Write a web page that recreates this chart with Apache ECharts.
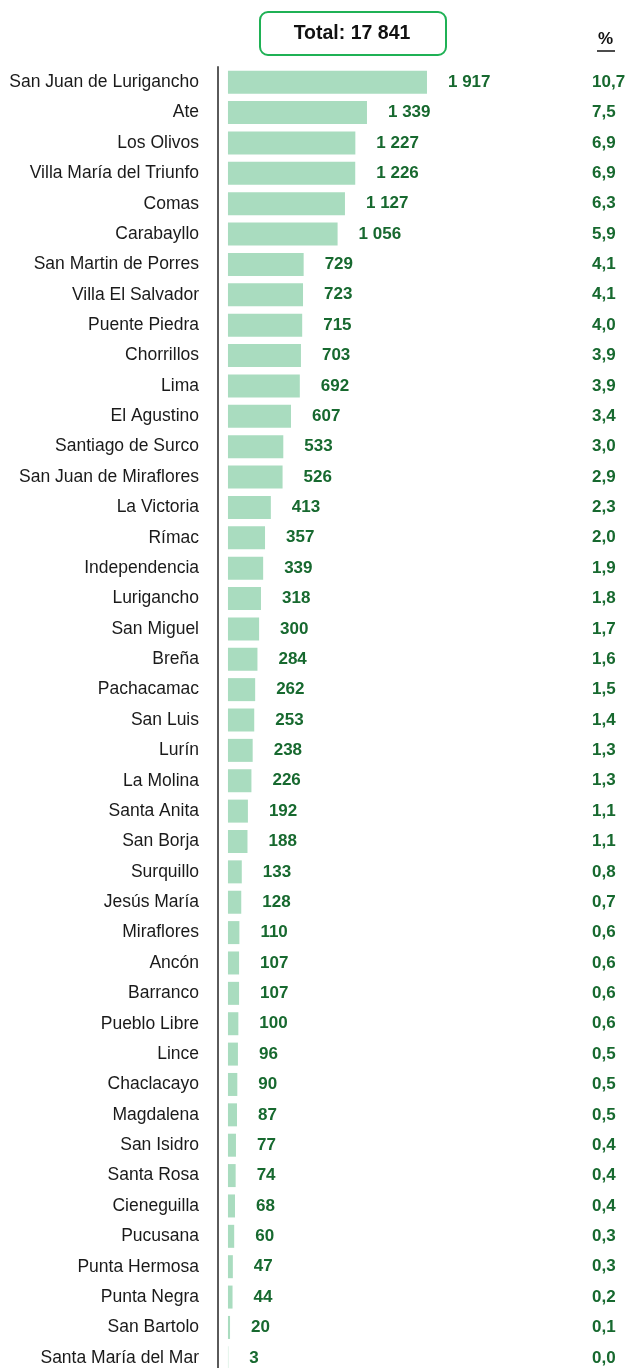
<!DOCTYPE html>
<html>
<head>
<meta charset="utf-8">
<style>
  html, body { margin: 0; padding: 0; background: #fff; }
  #chart { width: 628px; height: 1368px; }
</style>
<script src="https://cdn.jsdelivr.net/npm/echarts@6/dist/echarts.min.js"></script>
</head>
<body>
<div id="chart"></div>
<script>
const districts = [
  'San Juan de Lurigancho', 'Ate', 'Los Olivos', 'Villa María del Triunfo', 'Comas',
  'Carabayllo', 'San Martin de Porres', 'Villa El Salvador', 'Puente Piedra', 'Chorrillos',
  'Lima', 'El Agustino', 'Santiago de Surco', 'San Juan de Miraflores', 'La Victoria',
  'Rímac', 'Independencia', 'Lurigancho', 'San Miguel', 'Breña',
  'Pachacamac', 'San Luis', 'Lurín', 'La Molina', 'Santa Anita',
  'San Borja', 'Surquillo', 'Jesús María', 'Miraflores', 'Ancón',
  'Barranco', 'Pueblo Libre', 'Lince', 'Chaclacayo', 'Magdalena',
  'San Isidro', 'Santa Rosa', 'Cieneguilla', 'Pucusana', 'Punta Hermosa',
  'Punta Negra', 'San Bartolo', 'Santa María del Mar'
];
const counts = [
  1917, 1339, 1227, 1226, 1127,
  1056, 729, 723, 715, 703,
  692, 607, 533, 526, 413,
  357, 339, 318, 300, 284,
  262, 253, 238, 226, 192,
  188, 133, 128, 110, 107,
  107, 100, 96, 90, 87,
  77, 74, 68, 60, 47,
  44, 20, 3
];
const percents = [
  10.7, 7.5, 6.9, 6.9, 6.3,
  5.9, 4.1, 4.1, 4.0, 3.9,
  3.9, 3.4, 3.0, 2.9, 2.3,
  2.0, 1.9, 1.8, 1.7, 1.6,
  1.5, 1.4, 1.3, 1.3, 1.1,
  1.1, 0.8, 0.7, 0.6, 0.6,
  0.6, 0.6, 0.5, 0.5, 0.5,
  0.4, 0.4, 0.4, 0.3, 0.3,
  0.2, 0.1, 0.0
];

const font = "'Liberation Sans', Arial, sans-serif";
const barColor = '#a9dcbf';
const labelColor = '#17692f';

// miles separados con espacio: 1 917
const fmtMiles = (v) => String(v).replace(/\B(?=(\d{3})+(?!\d))/g, ' ');
const fmtPct = (v) => v.toFixed(1).replace('.', ',');
const total = counts.reduce((a, b) => a + b, 0);

const myChart = echarts.init(document.getElementById('chart'));

const option = {
  animation: false,
  grid: {
    left: 218,
    top: 67,
    width: 321,
    height: 1306,
    outerBoundsMode: 'none',
    containLabel: false
  },
  xAxis: {
    type: 'value',
    min: -96,
    max: 2996,
    show: false
  },
  yAxis: [
    {
      type: 'category',
      data: districts,
      inverse: true,
      axisLine: { onZero: false, lineStyle: { color: '#5a5a5a', width: 2 } },
      axisTick: { show: false },
      axisLabel: {
        margin: 19,
        color: '#1a1a1a',
        fontSize: 17.5,
        fontFamily: font
      }
    },
    {
      type: 'category',
      position: 'right',
      data: percents.map(fmtPct),
      inverse: true,
      axisLine: { show: false },
      axisTick: { show: false },
      axisLabel: {
        margin: 53,
        align: 'left',
        color: labelColor,
        fontSize: 17,
        fontWeight: 'bold',
        fontFamily: font,
        padding: [4, 0, 0, 0]
      }
    }
  ],
  series: [
    {
      type: 'bar',
      data: counts,
      barWidth: 23,
      itemStyle: { color: barColor },
      label: {
        show: true,
        position: 'right',
        distance: 21,
        color: labelColor,
        fontSize: 17,
        fontWeight: 'bold',
        fontFamily: font,
        padding: [5, 0, 0, 0],
        formatter: (p) => fmtMiles(p.value)
      }
    }
  ],
  graphic: [
    {
      type: 'rect',
      shape: { x: 260, y: 12, width: 186, height: 43, r: 8 },
      style: { fill: '#fff', stroke: '#1fb155', lineWidth: 2 }
    },
    {
      type: 'text',
      x: 352,
      y: 34,
      style: {
        text: 'Total: ' + fmtMiles(total),
        fontSize: 19.5,
        fontWeight: 'bold',
        fontFamily: font,
        fill: '#111',
        align: 'center',
        verticalAlign: 'middle'
      }
    },
    {
      type: 'text',
      x: 605.5,
      y: 39,
      style: {
        text: '%',
        fontSize: 17,
        fontWeight: 'bold',
        fontFamily: font,
        fill: '#111',
        align: 'center',
        verticalAlign: 'middle'
      }
    },
    {
      type: 'line',
      shape: { x1: 597, y1: 51, x2: 615, y2: 51 },
      style: { stroke: '#111', lineWidth: 1.5 }
    }
  ]
};

myChart.setOption(option);
</script>
</body>
</html>
